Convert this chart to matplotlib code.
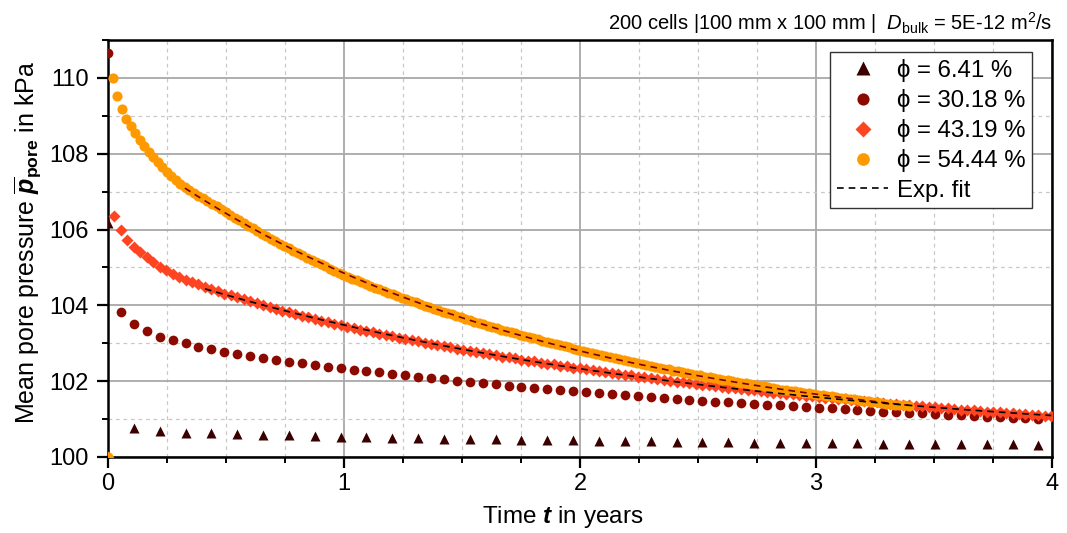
import numpy as np
import matplotlib
matplotlib.use('Agg')
import matplotlib.pyplot as plt
from matplotlib.ticker import MultipleLocator

plt.rcParams['font.family'] = ['Liberation Sans', 'DejaVu Sans']
plt.rcParams['mathtext.fontset'] = 'custom'
plt.rcParams['mathtext.rm'] = 'Liberation Sans'
plt.rcParams['mathtext.it'] = 'Liberation Sans:italic'
plt.rcParams['mathtext.bf'] = 'Liberation Sans:bold'
plt.rcParams['mathtext.bfit'] = 'Liberation Sans:bold:italic'

# sampling interval of each series in days
step_days = {'6.41': 40, '30.18': 20, '43.19': 10, '54.44': 7}

# mean pore pressure in kPa
p_641 = [106.18, 100.77, 100.69, 100.64, 100.62, 100.60, 100.58, 100.57, 100.55, 100.54, 100.53,
         100.50, 100.49, 100.48, 100.47, 100.47, 100.46, 100.45, 100.44, 100.43, 100.42,
         100.41, 100.40, 100.40, 100.39, 100.38, 100.38, 100.37, 100.36, 100.36, 100.35,
         100.35, 100.34, 100.34, 100.33, 100.33, 100.32]

p_3018 = [110.65, 103.82, 103.51, 103.32, 103.17, 103.09, 103.00, 102.91, 102.84, 102.78,
          102.72, 102.66, 102.61, 102.56, 102.51, 102.47, 102.43, 102.38, 102.34, 102.30,
          102.27, 102.23, 102.19, 102.16, 102.12, 102.08, 102.05, 102.01, 101.98, 101.94,
          101.92, 101.88, 101.85, 101.83, 101.79, 101.77, 101.74, 101.72, 101.69, 101.66,
          101.64, 101.61, 101.58, 101.56, 101.53, 101.51, 101.49, 101.46, 101.44, 101.42,
          101.40, 101.38, 101.36, 101.34, 101.32, 101.30, 101.28, 101.26, 101.24, 101.22,
          101.20, 101.18, 101.17, 101.15, 101.13, 101.11, 101.10, 101.08, 101.06, 101.05,
          101.03, 101.02, 101.00]

p_4319 = [100.00, 106.37, 105.99, 105.73, 105.55, 105.40, 105.27, 105.14, 105.02, 104.92, 104.83,
          104.75, 104.68, 104.61, 104.55, 104.49, 104.43, 104.37, 104.31, 104.26, 104.21, 104.16,
          104.11, 104.06, 104.01, 103.96, 103.91, 103.86, 103.82, 103.77, 103.73, 103.68, 103.64,
          103.60, 103.55, 103.51, 103.47, 103.43,
          103.39, 103.36, 103.32, 103.29, 103.25, 103.22, 103.18, 103.15, 103.12, 103.08, 103.05,
          103.02, 102.99, 102.95, 102.92, 102.89, 102.86, 102.83,
          102.80, 102.77, 102.74, 102.71, 102.68, 102.65, 102.63, 102.60, 102.57, 102.54, 102.52,
          102.49, 102.46, 102.44, 102.41, 102.39, 102.36, 102.34,
          102.31, 102.29, 102.26, 102.24, 102.22, 102.19, 102.17, 102.15, 102.12, 102.10, 102.08,
          102.06, 102.04, 102.01, 101.99, 101.97, 101.95, 101.93, 101.91, 101.89,
          101.87, 101.85, 101.83, 101.81, 101.79, 101.77, 101.76, 101.74, 101.72, 101.70, 101.68,
          101.67, 101.65, 101.63, 101.61, 101.60, 101.58,
          101.56, 101.55, 101.53, 101.52, 101.50, 101.48, 101.47, 101.45, 101.44, 101.42, 101.41,
          101.39, 101.38, 101.36,
          101.35, 101.34, 101.32, 101.31, 101.29, 101.28, 101.27, 101.25, 101.24, 101.23, 101.21,
          101.20, 101.19, 101.18, 101.16, 101.15, 101.14, 101.13, 101.12, 101.10, 101.09, 101.08]

p_5444 = [100.00, 110.00, 109.53, 109.18, 108.92, 108.72, 108.54, 108.36,
          108.20, 108.05, 107.91, 107.78, 107.65, 107.53, 107.42, 107.31, 107.21, 107.12,
          107.04, 106.96, 106.89, 106.82, 106.75, 106.68, 106.61, 106.54, 106.46,
          106.39, 106.31, 106.24, 106.17, 106.10, 106.03, 105.96, 105.89, 105.83, 105.76, 105.70, 105.63, 105.57,
          105.51, 105.44, 105.38, 105.32, 105.26, 105.20, 105.14, 105.08, 105.03, 104.97, 104.91, 104.86, 104.80,
          104.75, 104.70, 104.66, 104.61, 104.56, 104.52, 104.47, 104.42, 104.38, 104.33, 104.29, 104.25, 104.20,
          104.16, 104.12, 104.08, 104.03, 103.99, 103.95, 103.91, 103.87, 103.83, 103.79, 103.76, 103.72, 103.68,
          103.64, 103.61, 103.57, 103.53, 103.50, 103.46, 103.43, 103.39, 103.36, 103.33, 103.29, 103.26, 103.23,
          103.19, 103.16, 103.13, 103.10, 103.07, 103.04, 103.01, 102.98, 102.95, 102.92, 102.89, 102.86, 102.83,
          102.80, 102.77, 102.75, 102.72, 102.69, 102.66, 102.64, 102.61, 102.58, 102.56, 102.53, 102.51, 102.48,
          102.45, 102.43, 102.40, 102.38, 102.36, 102.33, 102.31, 102.28, 102.26, 102.24, 102.21, 102.19, 102.17,
          102.15, 102.12, 102.10, 102.08, 102.06, 102.04, 102.02, 102.00, 101.98, 101.96, 101.94, 101.92, 101.90,
          101.88, 101.86, 101.84, 101.82, 101.80, 101.78, 101.77, 101.75, 101.73, 101.71, 101.70, 101.68, 101.66,
          101.64, 101.63, 101.61, 101.60, 101.58, 101.56, 101.55, 101.53, 101.52, 101.50, 101.49, 101.47, 101.46,
          101.44, 101.43, 101.41, 101.40, 101.38, 101.37, 101.36, 101.34]

# start of the window used for the exponential fits (years)
fit_start = {'43.19': 0.40, '54.44': 0.31}


def years(values, days):
    return np.arange(len(values)) * days / 365.25


def exp_fit(t, p):
    # p = c + a * exp(k t), scan c and fit log-linear for the rest
    best = None
    for c in np.linspace(p.min() - 5.0, p.min() - 0.01, 600):
        k, ln_a = np.polyfit(t, np.log(p - c), 1)
        res = np.sum((c + np.exp(ln_a + k * t) - p) ** 2)
        if best is None or res < best[0]:
            best = (res, c, ln_a, k)
    return best[1:]


fig = plt.figure(figsize=(10.67, 5.33), dpi=100)
ax = fig.add_axes([0.1012, 0.1426, 0.8847, 0.7824])

t1 = years(p_641, step_days['6.41'])
t2 = years(p_3018, step_days['30.18'])
t3 = years(p_4319, step_days['43.19'])
t4 = years(p_5444, step_days['54.44'])

ax.plot(t1, p_641, ls='none', marker='^', ms=7.5, color='#3a0000', mec='none',
        label='\u03d5 = 6.41 %', zorder=3)
ax.plot(t2, p_3018, ls='none', marker='o', ms=7, color='#8b0a00', mec='none',
        label='\u03d5 = 30.18 %', zorder=3)
ax.plot(t3, p_4319, ls='none', marker='D', ms=6.3, color='#ff4422', mec='none',
        label='\u03d5 = 43.19 %', zorder=3)
ax.plot(t4, p_5444, ls='none', marker='o', ms=7.3, color='#ff9900', mec='none',
        label='\u03d5 = 54.44 %', zorder=3)

# exponential fits
for key, t, p, col, lab in [('54.44', t4, p_5444, '#7a0000', None),
                            ('43.19', t3, p_4319, 'black', 'Exp. fit')]:
    p = np.asarray(p)
    m = t >= fit_start[key]
    c, ln_a, k = exp_fit(t[m], p[m])
    tf = np.linspace(t[m][0], t[m][-1], 300)
    ax.plot(tf, c + np.exp(ln_a + k * tf), ls=(0, (4, 3)), lw=1.2, color=col,
            label=lab, zorder=4)

ax.set_xlim(0, 4)
ax.set_ylim(100, 111)
ax.xaxis.set_major_locator(MultipleLocator(1))
ax.xaxis.set_minor_locator(MultipleLocator(0.25))
ax.yaxis.set_major_locator(MultipleLocator(2))
ax.yaxis.set_minor_locator(MultipleLocator(1))

ax.grid(True, which='major', color='#a8a8a8', lw=1.3, ls='-')
ax.grid(True, which='minor', color='#c8c8c8', lw=0.9, ls=(0, (3, 3)))
ax.set_axisbelow(True)

for s in ax.spines.values():
    s.set_linewidth(1.8)
ax.tick_params(which='major', direction='out', length=8, width=1.6, labelsize=17)
ax.tick_params(which='minor', direction='out', length=4, width=1.4)
ax.tick_params(axis='y', which='major', pad=6)

ax.set_xlabel(r'Time $\boldsymbol{t}$ in years', fontsize=17.5)
ax.xaxis.set_label_coords(0.482, -0.112)
ax.set_ylabel(r'Mean pore pressure $\overline{\boldsymbol{p}}_{\mathbf{pore}}$ in kPa',
              fontsize=18, labelpad=4)
ax.yaxis.label.set_y(0.514)
ax.set_title(r'200 cells |100 mm x 100 mm |  $D_{\mathrm{bulk}}$ = 5E-12 m$^{2}$/s',
             loc='right', fontsize=14.5, pad=7)

leg = ax.legend(loc='upper right', bbox_to_anchor=(0.979, 0.971), borderaxespad=0,
                fontsize=17.3, frameon=True, fancybox=False, edgecolor='#333333',
                framealpha=1, handlelength=2.15, handletextpad=0.35, borderpad=0.28,
                labelspacing=0.3, markerscale=1.25)
leg.get_frame().set_linewidth(1.0)

fig.savefig('out.png', dpi=100)
